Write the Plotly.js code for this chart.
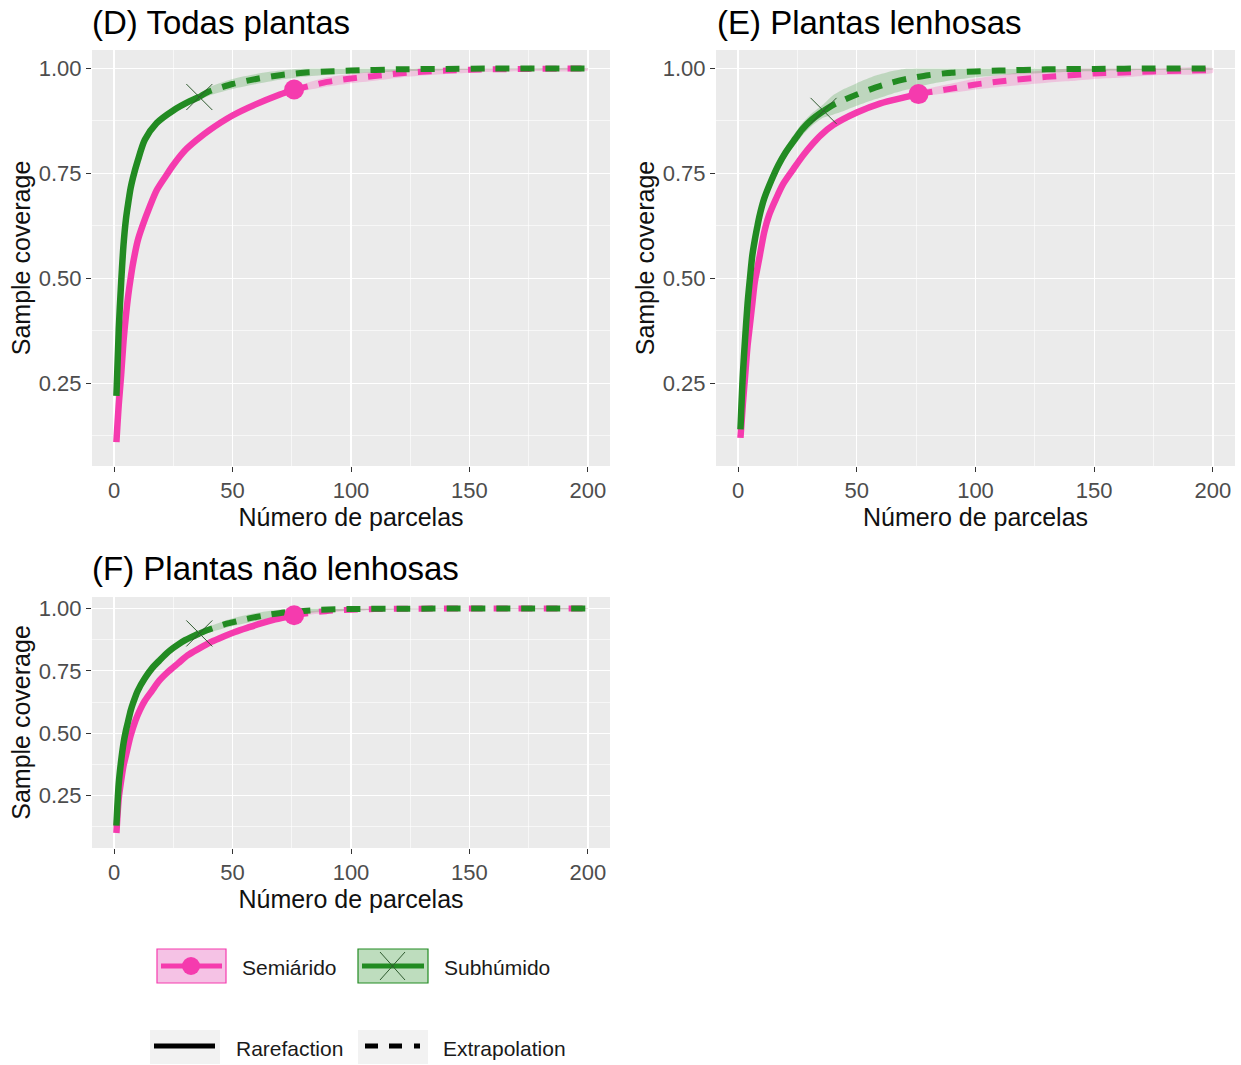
<!DOCTYPE html>
<html>
<head>
<meta charset="utf-8">
<script src="https://cdn.plot.ly/plotly-3.0.1.min.js"></script>
<style>html,body{margin:0;padding:0;background:#fff;}#chart{width:1241px;height:1065px;}</style>
</head>
<body>
<div id="chart"></div>
<script>
// ---------- DATA ----------
const panelTitles = ['(D) Todas plantas', '(E) Plantas lenhosas', '(F) Plantas não lenhosas'];
const groupNames = ['Semiárido', 'Subhúmido'];
const methodNames = ['Rarefaction', 'Extrapolation'];
const xTickVals = [0, 50, 100, 150, 200];
const yTickVals = [0.25, 0.50, 0.75, 1.00];
const yTickText = ['0.25', '0.50', '0.75', '1.00'];
const xTitle = 'Número de parcelas';
const yTitle = 'Sample coverage';

const obsSemi = 76;   // observed sample size, Semiárido
const obsSub = 36;    // observed sample size, Subhúmido

// (D) Todas plantas
const D_semi_x  = [1,2,3,4,5,6,7,8,10,12,15,18,22,25,30,35,40,50,60,70,76,80,90,100,110,120,130,140,150,160,175,200];
const D_semi_y  = [0.11,0.20,0.27,0.35,0.41,0.46,0.50,0.535,0.59,0.625,0.67,0.71,0.745,0.77,0.805,0.83,0.852,0.888,0.915,0.938,0.950,0.955,0.968,0.976,0.982,0.988,0.992,0.995,0.997,0.998,0.999,1.0];
const D_semi_lo = [0.105,0.195,0.265,0.345,0.405,0.455,0.495,0.53,0.585,0.62,0.665,0.705,0.74,0.765,0.80,0.825,0.847,0.883,0.91,0.933,0.944,0.947,0.957,0.965,0.971,0.978,0.983,0.987,0.99,0.992,0.994,0.995];
const D_semi_hi = [0.115,0.205,0.275,0.355,0.415,0.465,0.505,0.54,0.595,0.63,0.675,0.715,0.75,0.775,0.81,0.835,0.857,0.893,0.92,0.943,0.956,0.963,0.979,0.987,0.993,0.997,1.0,1.0,1.0,1.0,1.0,1.0];
const D_sub_x  = [1,2,3,4,5,6,7,8,10,13,18,25,32,36,40,50,60,70,80,90,100,120,140,160,200];
const D_sub_y  = [0.22,0.38,0.49,0.58,0.64,0.68,0.715,0.74,0.78,0.83,0.87,0.90,0.922,0.932,0.945,0.963,0.975,0.984,0.99,0.993,0.995,0.998,0.999,1.0,1.0];
const D_sub_lo = [0.21,0.37,0.48,0.57,0.63,0.67,0.705,0.73,0.77,0.82,0.862,0.893,0.915,0.925,0.935,0.951,0.963,0.973,0.98,0.985,0.988,0.993,0.996,0.998,0.999];
const D_sub_hi = [0.23,0.39,0.50,0.59,0.65,0.69,0.725,0.75,0.79,0.84,0.878,0.907,0.929,0.939,0.955,0.975,0.987,0.995,1.0,1.0,1.0,1.0,1.0,1.0,1.0];

// (E) Plantas lenhosas
const E_semi_x  = [1,2,3,4,5,6,7,8,9,11,13,16,19,23,27,31,35,40,50,60,70,76,80,90,100,110,120,130,140,150,160,175,200];
const E_semi_y  = [0.12,0.20,0.27,0.34,0.39,0.44,0.49,0.52,0.55,0.61,0.65,0.69,0.725,0.758,0.79,0.818,0.842,0.865,0.895,0.917,0.931,0.939,0.943,0.952,0.962,0.969,0.975,0.98,0.984,0.988,0.99,0.993,0.996];
const E_semi_lo = [0.115,0.195,0.265,0.335,0.385,0.435,0.485,0.515,0.545,0.605,0.645,0.685,0.72,0.753,0.785,0.813,0.837,0.86,0.89,0.911,0.925,0.932,0.936,0.942,0.95,0.956,0.961,0.966,0.97,0.975,0.978,0.984,0.99];
const E_semi_hi = [0.125,0.205,0.275,0.345,0.395,0.445,0.495,0.525,0.555,0.615,0.655,0.695,0.73,0.763,0.795,0.823,0.847,0.87,0.90,0.923,0.937,0.946,0.952,0.964,0.976,0.984,0.991,0.996,1.0,1.0,1.0,1.0,1.0];
const E_sub_x  = [1,2,3,4,5,6,7,8,9,11,14,17,20,24,27,31,36,40,45,50,58,65,70,80,90,100,110,130,150,175,200];
const E_sub_y  = [0.14,0.27,0.36,0.44,0.50,0.555,0.59,0.62,0.648,0.69,0.733,0.77,0.80,0.832,0.855,0.878,0.899,0.913,0.926,0.938,0.955,0.967,0.974,0.984,0.99,0.993,0.995,0.998,0.999,1.0,1.0];
const E_sub_lo = [0.13,0.26,0.35,0.43,0.49,0.545,0.58,0.61,0.638,0.68,0.722,0.758,0.787,0.818,0.84,0.863,0.883,0.89,0.90,0.911,0.927,0.94,0.948,0.962,0.972,0.979,0.984,0.99,0.994,0.997,0.998];
const E_sub_hi = [0.15,0.28,0.37,0.45,0.51,0.565,0.60,0.63,0.658,0.70,0.744,0.782,0.813,0.846,0.87,0.893,0.915,0.936,0.952,0.965,0.983,0.994,0.999,1.0,1.0,1.0,1.0,1.0,1.0,1.0,1.0];

// (F) Plantas não lenhosas
const F_semi_x  = [1,2,3,4,5,7,9,11,13,16,19,23,27,31,36,41,46,51,57,62,68,76,80,90,100,110,125,150,200];
const F_semi_y  = [0.10,0.24,0.31,0.37,0.41,0.49,0.55,0.595,0.63,0.67,0.71,0.748,0.78,0.812,0.84,0.866,0.887,0.906,0.925,0.94,0.956,0.973,0.979,0.99,0.995,0.998,0.999,1.0,1.0];
const F_semi_lo = [0.095,0.235,0.305,0.365,0.405,0.485,0.545,0.59,0.625,0.665,0.705,0.743,0.775,0.807,0.835,0.861,0.882,0.901,0.92,0.935,0.95,0.966,0.972,0.983,0.99,0.994,0.997,0.999,0.999];
const F_semi_hi = [0.105,0.245,0.315,0.375,0.415,0.495,0.555,0.60,0.635,0.675,0.715,0.753,0.785,0.817,0.845,0.871,0.892,0.911,0.93,0.945,0.962,0.98,0.986,0.996,1.0,1.0,1.0,1.0,1.0];
const F_sub_x  = [1,2,3,4,5,6,7,8,10,13,16,19,23,27,30,33,36,40,48,55,60,66,72,80,87,100,120,150,200];
const F_sub_y  = [0.13,0.30,0.39,0.46,0.51,0.55,0.59,0.62,0.67,0.72,0.76,0.79,0.827,0.855,0.873,0.887,0.90,0.915,0.94,0.956,0.966,0.976,0.984,0.99,0.995,0.998,0.999,1.0,1.0];
const F_sub_lo = [0.12,0.29,0.38,0.45,0.50,0.54,0.58,0.61,0.66,0.71,0.75,0.78,0.817,0.845,0.863,0.877,0.89,0.903,0.925,0.94,0.95,0.961,0.971,0.979,0.986,0.992,0.996,0.999,0.999];
const F_sub_hi = [0.14,0.31,0.40,0.47,0.52,0.56,0.60,0.63,0.68,0.73,0.77,0.80,0.837,0.865,0.883,0.897,0.91,0.927,0.955,0.972,0.982,0.991,0.997,1.0,1.0,1.0,1.0,1.0,1.0];

// ---------- STYLE ----------
const PINK = '#F53BAE', PINK_BAND = 'rgba(245,59,174,0.22)';
const GREEN = '#228B22', GREEN_BAND = 'rgba(34,139,34,0.22)';
const FONT = 'Liberation Sans, Arial, sans-serif';
const W = 1241, H = 1065;
const px = v => v / W;
const py = v => 1 - v / H;

const panels = [
  {xa:'x',  ya:'y',  semi:[D_semi_x,D_semi_y,D_semi_lo,D_semi_hi], sub:[D_sub_x,D_sub_y,D_sub_lo,D_sub_hi]},
  {xa:'x2', ya:'y2', semi:[E_semi_x,E_semi_y,E_semi_lo,E_semi_hi], sub:[E_sub_x,E_sub_y,E_sub_lo,E_sub_hi]},
  {xa:'x3', ya:'y3', semi:[F_semi_x,F_semi_y,F_semi_lo,F_semi_hi], sub:[F_sub_x,F_sub_y,F_sub_lo,F_sub_hi]}
];

function groupTraces(p, arr, obs, color, band, marker, name) {
  const [x, y, lo, hi] = arr;
  const rx = [], ry = [], ex = [], ey = [];
  let oy = null;
  x.forEach((v, i) => {
    if (v <= obs) { rx.push(v); ry.push(y[i]); }
    if (v >= obs) { ex.push(v); ey.push(y[i]); }
    if (v === obs) oy = y[i];
  });
  const bandTrace = {
    x: x.concat(x.slice().reverse()), y: lo.concat(hi.slice().reverse()),
    xaxis: p.xa, yaxis: p.ya, type: 'scatter', mode: 'lines', fill: 'toself',
    fillcolor: band, line: {width: 0, shape: 'spline', smoothing: 0.6}, hoverinfo: 'skip', showlegend: false
  };
  const rare = {x: rx, y: ry, xaxis: p.xa, yaxis: p.ya, type: 'scatter', mode: 'lines',
    line: {color: color, width: 6.5, shape: 'spline', smoothing: 0.8}, name: name + ' ' + methodNames[0], showlegend: false};
  const ext = {x: ex, y: ey, xaxis: p.xa, yaxis: p.ya, type: 'scatter', mode: 'lines',
    line: {color: color, width: 6, dash: '14px,11px', shape: 'spline', smoothing: 0.6}, name: name + ' ' + methodNames[1], showlegend: false};
  const obsPt = {x: [obs], y: [oy], xaxis: p.xa, yaxis: p.ya, type: 'scatter', mode: 'markers',
    marker: marker, name: name, showlegend: false, hoverinfo: 'skip'};
  return {band: bandTrace, rare, ext, obsPt};
}

const traces = [];
panels.forEach(p => {
  const s = groupTraces(p, p.semi, obsSemi, PINK, PINK_BAND, {symbol: 'circle', size: 20, color: PINK}, groupNames[0]);
  const g = groupTraces(p, p.sub, obsSub, GREEN, GREEN_BAND, {symbol: 'x-thin-open', size: 26, line: {width: 1, color: '#2F5A2F'}, color: '#2F5A2F'}, groupNames[1]);
  traces.push(s.band, g.band, s.ext, s.rare, g.ext, g.rare, s.obsPt, g.obsPt);
});

// ---------- AXES ----------
function xAxis(domain, anchor) {
  return {
    domain: domain, anchor: anchor, range: [-9.3, 209.3], tickvals: xTickVals,
    showgrid: true, gridcolor: '#FFFFFF', gridwidth: 1.3, zeroline: false, showline: false,
    ticks: 'outside', ticklen: 5, tickwidth: 1, tickcolor: '#333333',
    tickfont: {family: FONT, size: 22, color: '#4D4D4D'},
    minor: {tickvals: [25, 75, 125, 175], showgrid: true, gridcolor: '#FFFFFF', gridwidth: 0.6, ticks: ''},
    title: {text: xTitle, font: {family: FONT, size: 25, color: '#111111'}, standoff: 5},
    fixedrange: true
  };
}
function yAxis(domain, anchor, range) {
  return {
    domain: domain, anchor: anchor, range: range, tickvals: yTickVals, ticktext: yTickText,
    showgrid: true, gridcolor: '#FFFFFF', gridwidth: 1.3, zeroline: false, showline: false,
    ticks: 'outside', ticklen: 5, tickwidth: 1, tickcolor: '#333333',
    tickfont: {family: FONT, size: 22, color: '#4D4D4D'},
    minor: {tickvals: [0.125, 0.375, 0.625, 0.875], showgrid: true, gridcolor: '#FFFFFF', gridwidth: 0.6, ticks: ''},
    title: {text: yTitle, font: {family: FONT, size: 25, color: '#111111'}, standoff: 1},
    fixedrange: true
  };
}

const dTopX = [px(92), px(610)], eTopX = [px(716), px(1235)];
const topY = [py(466), py(50)], botY = [py(848), py(597)];

// ---------- LEGEND (drawn keys) ----------
const shapes = [];
const annotations = [];
function rect(x0, y0, x1, y1, fill, lineColor) {
  shapes.push({type: 'rect', xref: 'paper', yref: 'paper', x0: px(x0), x1: px(x1), y0: py(y1), y1: py(y0),
    fillcolor: fill, line: {color: lineColor, width: lineColor ? 1.2 : 0}, layer: 'above'});
}
function seg(x0, y0, x1, y1, color, width, dash) {
  shapes.push({type: 'line', xref: 'paper', yref: 'paper', x0: px(x0), x1: px(x1), y0: py(y0), y1: py(y1),
    line: {color: color, width: width, dash: dash || 'solid'}, layer: 'above'});
}
// group keys
rect(157, 949, 226, 983, '#F5C2E5', PINK);
seg(161, 966, 222, 966, PINK, 5);
shapes.push({type: 'circle', xref: 'paper', yref: 'paper', x0: px(182), x1: px(200), y0: py(975), y1: py(957),
  fillcolor: PINK, line: {color: PINK, width: 0}, layer: 'above'});
rect(358, 949, 428, 983, '#BEDDBE', GREEN);
seg(362, 966, 424, 966, GREEN, 5);
seg(380, 952, 405, 980, '#2F5A2F', 1);
seg(380, 980, 405, 952, '#2F5A2F', 1);
// method keys
rect(150, 1030, 220, 1064, '#F2F2F2', null);
seg(154, 1046, 215, 1046, '#000000', 5);
rect(358, 1030, 428, 1064, '#F2F2F2', null);
seg(365, 1046, 378, 1046, '#000000', 5);
seg(389, 1046, 402, 1046, '#000000', 5);
seg(414, 1046, 420, 1046, '#000000', 5);

const legendTexts = [[groupNames[0], 240, 967], [groupNames[1], 442, 967], [methodNames[0], 234, 1048], [methodNames[1], 441, 1048]];
legendTexts.forEach(t => annotations.push({text: t[0], xref: 'paper', yref: 'paper', x: px(t[1]), y: py(t[2]),
  xanchor: 'left', yanchor: 'middle', showarrow: false, font: {family: FONT, size: 21, color: '#1A1A1A'}}));

// panel titles
[[panelTitles[0], 90, 22], [panelTitles[1], 715, 22], [panelTitles[2], 90, 568]].forEach(t =>
  annotations.push({text: t[0], xref: 'paper', yref: 'paper', x: px(t[1]), y: py(t[2]),
    xanchor: 'left', yanchor: 'middle', showarrow: false, font: {family: FONT, size: 33, color: '#000000'}}));

const layout = {
  width: W, height: H, margin: {l: 0, r: 0, t: 0, b: 0},
  paper_bgcolor: '#FFFFFF', plot_bgcolor: '#EBEBEB',
  showlegend: false,
  font: {family: FONT},
  xaxis: xAxis(dTopX, 'y'), yaxis: yAxis(topY, 'x', [0.053, 1.044]),
  xaxis2: xAxis(eTopX, 'y2'), yaxis2: yAxis(topY, 'x2', [0.053, 1.044]),
  xaxis3: xAxis(dTopX, 'y3'), yaxis3: yAxis(botY, 'x3', [0.04, 1.046]),
  shapes: shapes, annotations: annotations
};

Plotly.newPlot('chart', traces, layout, {staticPlot: true, displayModeBar: false});
</script>
</body>
</html>
